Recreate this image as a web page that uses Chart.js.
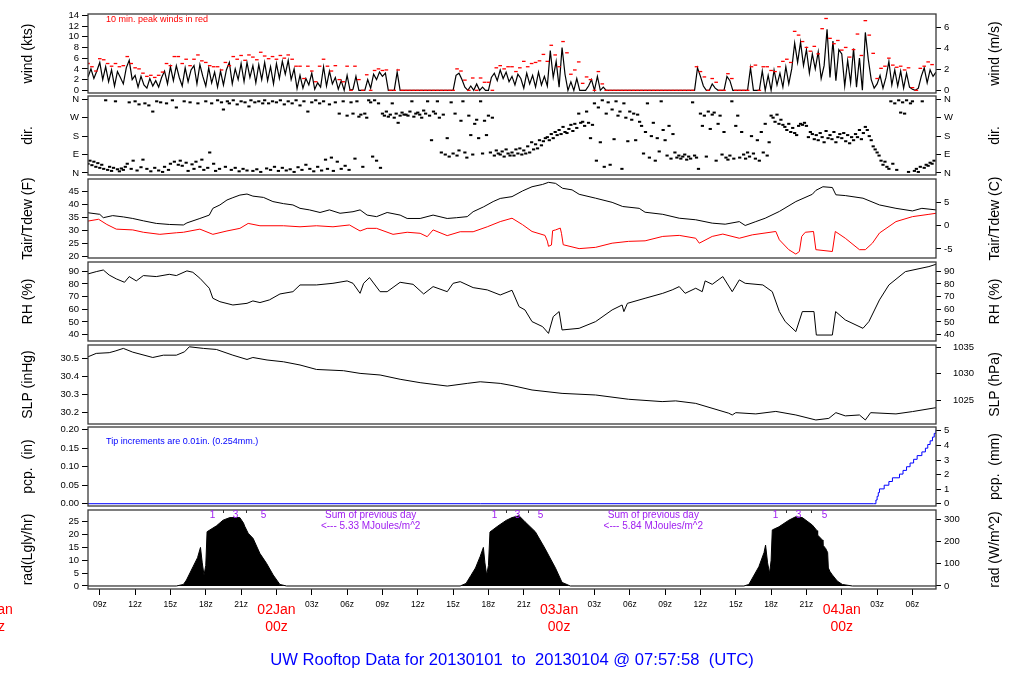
<!DOCTYPE html>
<html>
<head>
<meta charset="utf-8">
<title>UW Rooftop Data</title>
<script src="https://cdn.jsdelivr.net/npm/chart.js@4.4.1/dist/chart.umd.min.js"></script>
<style>
html,body{margin:0;padding:0;background:#fff;}
#wrap{position:relative;width:1024px;height:700px;overflow:hidden;background:#fff;}
#wrap canvas{position:absolute;left:0;}
</style>
</head>
<body>
<div id="wrap"></div>
<script>
// ===================== DATA (hours since 2013-01-01 00z) =====================
const X_MIN = 8, X_MAX = 80;
const xTickHours = [9,12,15,18,21,24,27,30,33,36,39,42,45,48,51,54,57,60,63,66,69,72,75,78];
const xTickLabels = ['09z','12z','15z','18z','21z','','03z','06z','09z','12z','15z','18z','21z','','03z','06z','09z','12z','15z','18z','21z','','03z','06z'];
const dayHours = [0,24,48,72];
const dayLabels = ['01Jan','02Jan','03Jan','04Jan'];
const dayHourLabel = '00z';
const chartTitle = 'UW Rooftop Data for 20130101  to  20130104 @ 07:57:58  (UTC)';

// wind speed (kts), every 15 min from 08z 01Jan
const windStart = 8, windStep = 0.25;
const windKt = [2.5,4.0,2.2,3.6, 5.2,2.0,4.4,1.6, 3.8,0.8,3.5,2.4, 1.2,4.2,5.6,2.0, 2.8,0.6,2.6,1.0, 0.4,2.2,0.8,1.8,
 0.6,2.4,3.6,1.2, 4.4,1.8,4.6,2.4, 0.8,4.2,1.6,3.8, 4.6,1.2,4.8,2.6, 0.8,4.2,1.4,3.4, 0.6,3.6,1.0,3.8,
 5.2,1.2,4.0,2.0, 5.0,1.6,5.2,2.4, 4.6,1.4,4.8,2.0, 5.2,1.8,4.4,1.2, 5.0,2.2,5.4,3.0, 5.6,2.0,4.0,0.3,
 2.8,0.4,2.2,1.0, 3.2,0.2,1.4,0.6, 4.4,0.8,3.6,1.2, 2.4,0.2,1.8,0, 2.8,0,0.2,2.6, 0,0,0,2.0,
 0.4,3.0,2.0,3.4, 2.6,3.2,0,0, 0,3.4,0,0, 0,0,0,0, 0,0,0,0, 0,0,0,0,
 0,0,0,0, 0,2.8,3.2,2.0, 0.6,0,0.8,0, 1.2,0,0.6,0, 0,2.4,3.2,1.8, 3.8,2.2,3.4,1.6,
 2.6,1.0,3.0,2.2, 0.4,3.2,1.2,2.8, 0.6,3.4,1.0,2.6, 0.8,7.4,2.4,5.4, 0.6,8.0,3.0,0, 1.6,0,2.2,0,
 0,0,0.8,2.0, 0,2.6,0,0.6, 0,0,0,0, 0,0,0,0, 0,0,0,0, 0,0,0,0,
 0,0,0,0, 0,0,0,0, 0,0,0,0, 0,0,0,4.2, 2.6,0.8,0,0, 1.2,0.4,0,0,
 0,2.6,1.8,0, 0,0,0,0, 0,4.2,0,0, 0,3.6,0,2.8, 0,3.8,1.0,3.2, 0.6,4.4,1.2,4.0,
 8.8,5.2,9.0,4.6, 7.6,3.2,6.8,4.0, 7.2,2.2,4.6,11.4, 2.4,9.2,1.8,7.6, 6.8,0.8,5.6,1.4, 7.8,0.6,6.0,0,
 10.8,5.8,2.0,0.4, 1.2,2.8,0.4,2.4, 5.4,1.0,3.8,0.8, 3.6,0.4,3.2,0.6, 0.2,0,0.4,2.6, 4.2,1.4,3.8,2.6, 3.4];

// 10-min peak wind (kts), every 20 min from 08z 01Jan
const peakStart = 8, peakStep = 1/3;
const windPeakKt = [5.0,4.4,3.6, 5.9,5.7,5.0, 4.5,5.0,4.4, 4.6,6.3,5.0, 4.2,4.0,3.2, 2.6,2.8,2.4,
 2.8,3.4,5.0, 4.6,6.3,6.3, 5.0,5.8,4.6, 5.8,6.6,5.5, 5.2,4.6,4.4, 4.4,3.8,5.2,
 4.6,6.3,5.8, 6.5,5.6,6.6, 6.2,5.7,7.1, 6.4,5.9,6.3, 5.8,6.5,6.0, 6.6,5.8,4.5,
 4.5,2.2,4.5, 3.6,1.6,4.5, 5.8,4.5,3.6, 4.6,2.0,1.6, 4.5,0,4.5, 2.0,0,2.9,
 0,3.7,4.0, 3.7,3.8,0, 0,3.8,0, 0,0,0, 0,0,0, 0,0,0,
 0,0,0, 0,4.0,3.6, 1.9,0,2.3, 0,2.3,1.5, 1.5,0,4.2, 4.6,4.0,4.4,
 4.4,3.5,4.2, 5.4,4.4,5.0, 5.2,5.5,6.7, 5.4,8.4,6.6, 4.4,9.1,7.0, 3.0,3.8,5.3,
 1.3,2.5,2.0, 0,3.5,1.2, 0,0,0, 0,0,0, 0,0,0, 0,0,0,
 0,0,0, 0,0,0, 0,0,0, 0,0,4.4, 3.5,2.5,0, 2.2,1.5,0,
 0,3.1,2.2, 0,0,0, 0,4.4,4.7, 0,4.4,4.4, 3.7,3.5,4.4, 5.4,5.8,5.2,
 11.0,10.3,9.1, 8.0,7.3,8.2, 6.8,11.5,13.4, 9.7,8.7,9.3, 7.5,8.0,6.2, 7.6,10.5,6.5,
 13.0,10.3,6.9, 2.2,4.1,4.5, 6.0,4.7,4.3, 4.5,3.8,4.2, 0.5,0,4.1, 4.5,5.3,4.8];

// wind direction (deg), every 10 min from 08z 01Jan
const dirStart = 8, dirStep = 1/6;
const dirDeg = [45,60,38,55,30,48, 25,40,20,355,15,30, 10,25,350,18,8,22, 15,30,45,345,20,60,
 350,12,335,28,65,340, 20,330,8,300,25,350, 12,345,5,30,340,15, 45,355,55,320,40,60,
 35,350,50,10,345,42, 20,55,340,30,65,15, 350,25,100,340,45,10, 355,20,345,310,30,350,
 340,15,355,25,335,8, 350,20,345,12,325,355, 10,345,18,350,5,340, 355,22,340,15,350,30,
 345,10,355,25,335,12, 350,18,340,5,355,28, 330,15,350,40,300,20, 345,8,355,30,340,12,
 350,65,20,335,75,10, 345,55,290,20,350,35, 280,15,345,290,70,350, 275,285,30,290,270,355,
 345,80,355,60,340,25, 290,280,300,275,285,340, 270,290,245,280,295,285, 285,280,300,350,275,290,
 295,285,270,305,290,350, 280,160,300,290,350,270, 100,285,90,170,80,345, 95,290,85,110,255,350,
 100,75,280,185,90,240, 260,170,350,95,255,185, 280,100,270,85,110,95, 90,105,80,115,95,85,
 100,85,115,95,120,90, 110,95,130,100,150,115, 140,120,160,135,155,170, 175,160,190,170,200,185,
 210,190,225,200,195,215, 235,205,240,220,290,245, 250,230,300,245,170,235, 340,60,320,150,355,30,
 290,345,40,310,165,350, 280,300,20,340,270,155, 300,260,290,160,285,250, 230,95,200,340,75,180,
 245,60,170,105,350,210, 160,85,230,70,190,100, 75,85,70,80,90,65, 80,70,345,85,75,20,
 290,230,280,80,300,215, 285,295,60,240,280,90, 200,75,65,85,350,70, 230,280,75,200,90,70,
 100,80,180,95,70,160, 60,200,100,240,85,150, 280,270,250,285,240,260, 235,225,210,240,200,220,
 195,185,230,240,235,245, 230,175,200,190,165,185, 160,195,175,150,205,170, 185,165,200,150,175,190,
 170,195,155,185,145,175, 160,190,175,210,165,195, 225,210,180,160,130,115, 100,85,60,40,55,30,
 20,350,45,340,15,355, 295,345,290,355,5,340, 350,10,20,5,30,350, 25,40,35,50,45,60];

// air temperature (F)
const tairHours = [8.0,9.0,9.3,10.1,11.0,11.8,12.7,13.8,14.9,16.1,16.4,17.5,18.3,18.6,19.2,19.8,20.3,20.9,21.5,22.0,22.9,23.7,24.6,25.4,26.0,26.8,27.7,28.5,29.4,30.5,31.1,31.7,32.5,33.4,34.5,35.1,36.2,37.3,38.5,39.3,40.2,40.7,41.6,42.4,43.0,44.0,44.9,45.7,46.6,47.1,47.7,48.3,49.1,49.7,51.1,52.5,53.4,54.8,55.3,56.8,58.2,59.6,61.0,62.1,63.3,63.8,64.7,65.5,66.7,68.1,69.5,69.8,70.4,71.2,71.5,72.3,73.8,75.2,76.6,78.0,78.8,80.0];
const tairF = [36.9,36.3,35.0,35.8,35.3,34.7,33.8,32.8,32.4,32.2,33.0,34.7,36.0,38.6,39.9,41.8,42.7,43.7,44.1,43.3,42.8,41.2,40.4,39.9,38.6,38.0,37.0,38.0,36.7,37.3,38.0,36.0,35.4,37.0,36.0,34.7,34.7,36.0,34.7,35.0,35.4,37.3,39.2,41.2,42.4,43.1,45.3,46.9,47.8,48.6,48.2,46.3,45.7,44.0,42.5,40.9,39.3,38.6,37.1,36.3,34.8,34.2,32.9,32.5,33.5,32.0,33.5,34.8,37.4,41.2,44.0,45.5,46.9,46.6,43.8,43.5,42.5,39.9,38.6,37.6,38.6,38.0];

// dew point (F)
const tdewHours = [8.0,8.9,9.6,10.4,11.8,12.7,14.1,15.5,16.1,17.5,18.6,19.8,20.9,21.6,22.6,24.6,26.0,27.4,28.8,30.2,31.1,31.7,32.5,33.9,35.1,36.2,36.8,37.3,38.5,39.6,40.7,41.9,43.0,44.0,44.9,45.7,46.8,47.0,47.1,47.35,47.45,47.7,48.1,48.2,48.35,49.7,51.1,52.5,53.9,55.3,56.8,58.2,59.6,59.9,61.0,61.9,63.3,64.4,66.4,66.7,67.5,68.1,68.4,68.6,68.9,69.6,69.8,71.2,71.45,72.3,73.5,74.0,74.6,75.2,76.6,78.0,79.4,80.0];
const tdewF = [33.7,34.4,32.4,30.6,30.3,29.4,28.6,29.2,29.4,30.6,28.6,29.9,30.9,32.8,31.9,31.9,31.5,31.9,31.5,32.2,29.9,30.9,30.9,28.6,29.4,29.0,27.7,30.3,28.1,29.6,29.6,31.5,33.5,34.8,32.3,29.7,28.2,26.0,24.0,24.5,30.0,30.3,31.0,29.0,24.6,23.1,23.6,25.2,25.9,26.1,27.8,28.2,27.1,25.2,27.8,28.7,27.1,28.4,29.7,26.5,22.7,21.0,22.0,27.8,29.4,29.7,22.7,22.0,29.7,27.1,22.7,22.7,25.2,29.1,33.5,35.4,36.3,36.7];

// relative humidity (%)
const rhHours = [8.0,8.7,9.3,9.8,10.4,11.1,11.5,12.1,12.7,13.8,14.9,15.5,16.4,16.9,17.5,18.3,18.6,19.2,20.3,21.5,22.0,22.6,23.4,24.3,25.4,26.0,27.4,28.8,30.0,30.5,31.1,31.4,31.9,32.8,33.4,34.5,35.6,36.5,37.3,38.5,39.0,39.6,40.7,41.9,43.0,44.0,44.6,45.1,45.7,46.6,47.1,47.5,48.0,48.25,49.7,51.1,52.5,53.35,53.5,53.8,55.3,56.8,57.6,58.2,58.7,59.6,60.15,60.4,61.0,61.9,62.7,63.3,63.8,65.3,66.1,66.7,67.2,68.1,68.65,69.64,69.84,71.2,71.48,72.3,73.8,74.3,75.2,76.0,77.4,79.4,80.0];
const rhPct = [87.9,89.7,91.0,87.0,84.0,81.3,85.8,82.4,86.6,85.8,87.6,86.6,90.3,89.2,84.5,76.6,68.7,66.0,63.4,64.7,66.6,65.3,67.4,72.1,73.9,79.2,79.2,80.5,82.4,80.5,72.6,80.5,85.0,73.9,73.9,81.3,79.7,72.1,77.9,73.9,80.5,81.8,77.1,75.3,71.3,75.0,62.1,59.5,50.3,46.3,41.0,54.2,58.2,43.7,45.0,50.3,59.5,63.4,58.2,64.7,68.7,72.6,75.3,77.9,72.6,76.6,73.9,82.4,79.7,85.8,73.9,83.2,80.5,79.2,73.9,58.2,50.3,42.4,58.2,58.2,39.7,39.7,58.2,51.6,45.0,50.3,67.4,79.2,89.7,93.7,95.5];

// sea-level pressure (inHg)
const slpHours = [8.0,8.7,9.8,10.3,11.0,11.8,13.5,14.4,15.5,16.2,16.6,17.8,18.9,20.3,21.5,22.0,23.2,24.6,26.0,27.4,29.7,31.1,32.8,34.5,36.2,38.5,40.2,41.3,43.0,44.0,45.7,48.25,51.1,53.9,56.75,57.9,59.6,62.4,62.7,63.0,64.7,66.4,68.1,69.8,70.9,71.5,72.3,73.5,74.0,74.45,76.6,78.0,80.0];
const slpIn = [30.511,30.530,30.534,30.543,30.558,30.537,30.507,30.520,30.520,30.539,30.567,30.558,30.552,30.520,30.496,30.507,30.493,30.483,30.465,30.440,30.433,30.418,30.409,30.385,30.366,30.347,30.362,30.371,30.362,30.350,30.325,30.306,30.297,30.273,30.260,30.264,30.250,30.195,30.185,30.198,30.191,30.205,30.185,30.157,30.166,30.198,30.180,30.185,30.157,30.198,30.191,30.204,30.226];

// accumulated precipitation (in), tip times
const pcpHours = [8.0,74.7,74.9,75.0,75.1,75.2,75.6,76.0,76.3,76.9,77.2,77.5,77.8,78.1,78.4,78.8,79.1,79.3,79.5,79.7,79.85,80.0];
const pcpIn = [0,0,0.01,0.02,0.03,0.04,0.05,0.06,0.07,0.08,0.09,0.10,0.11,0.12,0.13,0.14,0.15,0.16,0.17,0.18,0.19,0.20];

// solar radiation (Langley/hr)
const radHours = [8.0,15.5,16.1,16.36,16.92,17.3,17.55,17.7,17.85,18.0,18.11,18.91,19.47,20.04,20.89,21.2,21.31,21.6,22.02,22.59,23.16,23.72,24.29,24.86,
 39.6,40.1,40.5,40.9,41.3,41.57,41.7,41.85,42.0,42.13,42.8,43.5,44.0,44.6,45.1,45.98,46.8,47.7,48.25,48.95,
 63.69,64.11,64.96,65.4,65.53,65.7,65.87,66.0,66.1,66.66,67.51,68.08,68.65,69.5,69.9,69.95,70.35,70.4,70.63,70.8,70.86,71.0,71.2,71.62,72.05,72.9,80.0];
const radLy = [0,0,0.6,2.3,7.5,11.0,15.0,9.0,4.2,8.0,21.1,23.4,25.6,26.6,26.6,24.5,23.2,20.5,18.5,12.7,8.8,4.3,0.6,0,
 0,1.0,4.0,7.0,11.5,15.0,9.0,4.2,8.0,21.0,23.3,25.5,26.6,27.3,25.0,21.1,14.6,6.9,1.4,0,
 0,0.6,7.5,13.0,15.9,9.0,4.9,10.0,21.8,23.0,25.6,26.9,26.6,23.7,21.5,19.8,17.9,15.9,14.6,13.0,7.0,5.6,4.3,1.9,0.6,0,0];
const radMarkHours = [[18.51,19.47,20.49,21.40,22.82],[42.47,43.45,44.42,45.40,46.38],[66.32,67.28,68.30,69.40,70.48]];
const radMarkLabels = ['1','','3','','5'];
const sumHours = [32, 56];
const sumHeader = 'Sum of previous day';
const sumTexts = ['<--- 5.33 MJoules/m^2','<--- 5.84 MJoules/m^2'];

// axis ticks
const windTicks = [0,2,4,6,8,10,12,14], windMsTicks = [0,2,4,6];
const dirTicks = [0,90,180,270,360], dirLabels = ['N','E','S','W','N'];
const tairTicks = [20,25,30,35,40,45], tairCTicks = [-5,0,5];
const rhTicks = [40,50,60,70,80,90];
const slpTicks = [30.2,30.3,30.4,30.5], slpHpaTicks = [1025,1030,1035];
const pcpTicks = [0,0.05,0.10,0.15,0.20], pcpMmTicks = [0,1,2,3,4,5];
const radTicks = [0,5,10,15,20,25], radWTicks = [0,100,200,300];

const windNote = '10 min. peak winds in red';
const pcpNote = 'Tip increments are 0.01in. (0.254mm.)';

// ===================== RENDERING =====================
const FONT = '"Liberation Sans", Arial, Helvetica, sans-serif';
Chart.defaults.font.family = FONT;
const PANEL_TOPS = [14, 96, 179, 262, 345, 427, 510];
const PANEL_H = 79, PAD = 8, SIDE_W = 88;

const pts = (xs, ys) => xs.map((x, k) => ({x, y: ys[k]}));
const series = (start, step, ys) => ys.map((y, k) => ({x: start + k * step, y}));

function mkCanvas(top, h) {
  const c = document.createElement('canvas');
  c.width = 1024; c.height = h;
  c.style.top = top + 'px'; c.style.width = '1024px'; c.style.height = h + 'px';
  document.getElementById('wrap').appendChild(c);
  return c;
}

function yScale(pos, min, max, ticks, labels, pad, tickLen) {
  return {
    type: 'linear', position: pos, min, max, display: true,
    afterBuildTicks: s => { s.ticks = ticks.map(v => ({value: v})); },
    afterFit: s => { s.width = SIDE_W; s.paddingTop = 0; s.paddingBottom = 0; },
    ticks: {autoSkip: false, color: '#000', font: {size: 9.5}, padding: pad, callback: (v, k) => labels[k]},
    grid: {drawOnChartArea: false, drawTicks: true, tickLength: tickLen, color: '#000', lineWidth: 1},
    border: {display: false}
  };
}

function deco(def) {
  return {
    id: 'deco',
    afterDatasetsDraw(chart) {
      const ctx = chart.ctx, a = chart.chartArea;
      ctx.save();
      ctx.strokeStyle = '#3a3a3a'; ctx.lineWidth = 1.3;
      ctx.strokeRect(a.left, a.top, a.right - a.left, a.bottom - a.top);
      const cy = (a.top + a.bottom) / 2;
      ctx.fillStyle = '#000'; ctx.font = '14px ' + FONT;
      ctx.textAlign = 'center'; ctx.textBaseline = 'middle';
      [[28, def.leftTitle], [995, def.rightTitle]].forEach(([x, t]) => {
        ctx.save(); ctx.translate(x, cy); ctx.rotate(-Math.PI / 2); ctx.fillText(t, 0, 0); ctx.restore();
      });
      if (def.extra) def.extra(chart, ctx, a);
      ctx.restore();
    }
  };
}

function makePanel(i, def) {
  const isBottom = i === PANEL_TOPS.length - 1;
  const top = PANEL_TOPS[i] - PAD;
  const h = isBottom ? 700 - top : PANEL_H + 2 * PAD;
  const canvas = mkCanvas(top, h);
  const xAxis = isBottom ? {
    type: 'linear', min: X_MIN, max: X_MAX, position: 'bottom',
    afterBuildTicks: s => { s.ticks = xTickHours.map(v => ({value: v})); },
    afterFit: s => { s.height = 700 - (PANEL_TOPS[i] + PANEL_H); s.paddingLeft = 0; s.paddingRight = 0; },
    ticks: {autoSkip: false, maxRotation: 0, minRotation: 0, padding: 5, color: '#000', font: {size: 8.5}, callback: (v, k) => xTickLabels[k]},
    grid: {drawOnChartArea: false, drawTicks: true, tickLength: 6, color: '#000', lineWidth: 1},
    border: {display: false}
  } : {type: 'linear', min: X_MIN, max: X_MAX, display: false};
  new Chart(canvas, {
    type: 'line',
    data: {datasets: def.datasets},
    options: {
      responsive: false, animation: false, events: [],
      layout: {padding: {top: PAD, bottom: isBottom ? 0 : PAD, left: 0, right: 0}},
      plugins: {legend: {display: false}, tooltip: {enabled: false}},
      elements: {point: {radius: 0}, line: {tension: 0}},
      scales: {
        x: xAxis,
        y: yScale('left', def.min, def.max, def.lt, def.ll, 3, 6),
        y2: yScale('right', def.conv(def.min), def.conv(def.max), def.rt, def.rl, def.rpad || 3, 5)
      }
    },
    plugins: [deco(def)]
  });
}

const lineDs = (data, color, w) => ({data, borderColor: color, borderWidth: w || 1, pointRadius: 0, fill: false, yAxisID: 'y'});
const fmt = d => v => v.toFixed(d);

const panels = [
  { leftTitle: 'wind (kts)', rightTitle: 'wind (m/s)', min: -0.5, max: 14.24, conv: v => v * 0.514444,
    lt: windTicks, ll: windTicks.map(String), rt: windMsTicks, rl: windMsTicks.map(String),
    datasets: [
      {data: series(peakStart, peakStep, windPeakKt), showLine: false, pointStyle: 'line', pointRadius: 1.8,
       borderColor: '#ff0000', pointBorderColor: '#ff0000', pointBorderWidth: 1.3, yAxisID: 'y'},
      lineDs(series(windStart, windStep, windKt), '#000', 1.2)
    ],
    extra: (chart, ctx, a) => {
      ctx.fillStyle = '#ff0000'; ctx.font = '9px ' + FONT; ctx.textAlign = 'left'; ctx.textBaseline = 'middle';
      ctx.fillText(windNote, a.left + 18, a.top + 6);
    }
  },
  { leftTitle: 'dir.', rightTitle: 'dir.', min: -10, max: 376, conv: v => v,
    lt: dirTicks, ll: dirLabels, rt: dirTicks, rl: dirLabels,
    datasets: [
      {data: series(dirStart, dirStep, dirDeg), showLine: false, pointStyle: 'line', pointRadius: 1.6,
       borderColor: '#000', pointBorderColor: '#000', pointBorderWidth: 2, yAxisID: 'y'}
    ]
  },
  { leftTitle: 'Tair/Tdew (F)', rightTitle: 'Tair/Tdew (C)', min: 19.5, max: 49.88, conv: v => (v - 32) * 5 / 9,
    lt: tairTicks, ll: tairTicks.map(String), rt: tairCTicks, rl: tairCTicks.map(String),
    datasets: [lineDs(pts(tairHours, tairF), '#000'), lineDs(pts(tdewHours, tdewF), '#ff0000')]
  },
  { leftTitle: 'RH (%)', rightTitle: 'RH (%)', min: 35.0, max: 97.3, conv: v => v,
    lt: rhTicks, ll: rhTicks.map(String), rt: rhTicks, rl: rhTicks.map(String),
    datasets: [lineDs(pts(rhHours, rhPct), '#000')]
  },
  { leftTitle: 'SLP (inHg)', rightTitle: 'SLP (hPa)', min: 30.1345, max: 30.577, conv: v => v * 33.8639,
    lt: slpTicks, ll: slpTicks.map(fmt(1)), rt: slpHpaTicks, rl: slpHpaTicks.map(String), rpad: 12,
    datasets: [lineDs(pts(slpHours, slpIn), '#000')]
  },
  { leftTitle: 'pcp.  (in)', rightTitle: 'pcp.  (mm)', min: -0.0062, max: 0.2073, conv: v => v * 25.4,
    lt: pcpTicks, ll: pcpTicks.map(fmt(2)), rt: pcpMmTicks, rl: pcpMmTicks.map(String),
    datasets: [Object.assign(lineDs(pts(pcpHours, pcpIn), '#0000ff'), {stepped: 'before'})],
    extra: (chart, ctx, a) => {
      ctx.fillStyle = '#0000ff'; ctx.font = '9px ' + FONT; ctx.textAlign = 'left'; ctx.textBaseline = 'middle';
      ctx.fillText(pcpNote, a.left + 18, a.top + 15);
    }
  },
  { leftTitle: 'rad(Lgly/hr)', rightTitle: 'rad (W/m^2)', min: -1.17, max: 29.55, conv: v => v * 11.622,
    lt: radTicks, ll: radTicks.map(String), rt: radWTicks, rl: radWTicks.map(String),
    datasets: [Object.assign(lineDs(pts(radHours, radLy), '#000'), {fill: 'origin', backgroundColor: '#000'})],
    extra: (chart, ctx, a) => {
      const xs = chart.scales.x;
      ctx.fillStyle = '#a020f0'; ctx.font = '10px ' + FONT; ctx.textAlign = 'center'; ctx.textBaseline = 'middle';
      ctx.strokeStyle = '#333'; ctx.lineWidth = 1;
      radMarkHours.forEach(day => day.forEach((hr, k) => {
        const px = Math.round(xs.getPixelForValue(hr)) + 0.5;
        if (radMarkLabels[k]) ctx.fillText(radMarkLabels[k], px, a.top + 5);
        else { ctx.beginPath(); ctx.moveTo(px, a.top); ctx.lineTo(px, a.top + 3); ctx.stroke(); }
      }));
      sumHours.forEach((hr, k) => {
        const px = xs.getPixelForValue(hr);
        ctx.fillText(sumHeader, px, a.top + 5);
        ctx.fillText(sumTexts[k], px, a.top + 16);
      });
      // day labels under the time axis
      ctx.fillStyle = '#ff0000'; ctx.font = '14px ' + FONT;
      dayHours.forEach((hr, k) => {
        const px = xs.getPixelForValue(hr);
        ctx.fillText(dayLabels[k], px, a.bottom + 21);
        ctx.fillText(dayHourLabel, px, a.bottom + 38);
      });
      ctx.fillStyle = '#0000ff'; ctx.font = '16.6px ' + FONT;
      ctx.fillText(chartTitle, 512, a.bottom + 71);
    }
  }
];

panels.forEach((p, i) => makePanel(i, p));
</script>
</body>
</html>
